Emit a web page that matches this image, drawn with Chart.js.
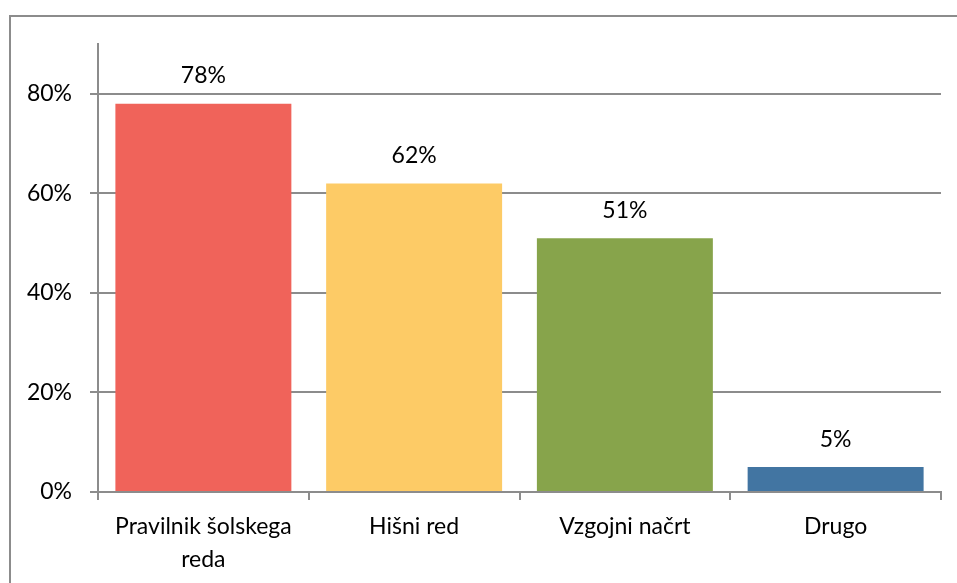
<!DOCTYPE html>
<html>
<head>
<meta charset="utf-8">
<script src="https://cdn.jsdelivr.net/npm/chart.js@4/dist/chart.umd.min.js"></script>
<style>
  html, body { margin: 0; padding: 0; background: #fff; }
  #wrap { width: 957px; height: 583px; }
</style>
</head>
<body>
<div id="wrap"><canvas id="chart"></canvas></div>
<script>
// data
const categories = [['Pravilnik šolskega', 'reda'], 'Hišni red', 'Vzgojni načrt', 'Drugo'];
const shares = [78, 62, 51, 5];
const barColors = ['#F0635A', '#FDCB66', '#87A44B', '#4275A2'];
const yTicks = [0, 20, 40, 60, 80];

const fontFamily = 'Lato, "Open Sans", sans-serif';

// outer frame like the original picture
const framePlugin = {
    id: 'frame',
    beforeDraw(chart) {
        const ctx = chart.ctx;
        ctx.save();
        ctx.strokeStyle = '#8c8c8c';
        ctx.lineWidth = 2;
        ctx.strokeRect(10, 16, 1200, 1000);
        ctx.restore();
    }
};

// value labels above the bars
const valueLabels = {
    id: 'valueLabels',
    afterDatasetsDraw(chart) {
        const ctx = chart.ctx;
        const meta = chart.getDatasetMeta(0);
        ctx.save();
        ctx.font = '23px ' + fontFamily;
        ctx.fillStyle = '#000';
        ctx.textAlign = 'center';
        ctx.textBaseline = 'middle';
        meta.data.forEach((bar, i) => {
            ctx.fillText(shares[i] + '%', bar.x, bar.y - 28);
        });
        ctx.restore();
    }
};

new Chart(document.getElementById('chart'), {
    type: 'bar',
    data: {
        labels: categories,
        datasets: [{
            data: shares,
            backgroundColor: barColors,
            barPercentage: 0.835,
            categoryPercentage: 1.0
        }]
    },
    options: {
        responsive: true,
        maintainAspectRatio: false,
        animation: false,
        layout: { padding: { top: 44, right: 16, left: 0, bottom: 0 } },
        plugins: {
            legend: { display: false },
            tooltip: { enabled: false }
        },
        scales: {
            x: {
                grid: {
                    offset: true,
                    drawOnChartArea: false,
                    drawTicks: true,
                    tickLength: 8,
                    color: '#8c8c8c',
                    lineWidth: 2
                },
                border: { color: '#8c8c8c', width: 2 },
                ticks: {
                    color: '#000',
                    font: { family: fontFamily, size: 23, lineHeight: 1.43 },
                    padding: 10,
                    maxRotation: 0,
                    autoSkip: false
                },
                afterFit(scale) { scale.height = 91; }
            },
            y: {
                min: 0,
                max: 90,
                afterBuildTicks(scale) {
                    scale.ticks = yTicks.map(v => ({ value: v }));
                },
                grid: {
                    color: '#8c8c8c',
                    lineWidth: 2,
                    tickLength: 8
                },
                border: { color: '#8c8c8c', width: 2 },
                ticks: {
                    color: '#000',
                    font: { family: fontFamily, size: 23 },
                    padding: 18,
                    callback: v => v + '%'
                },
                afterFit(scale) { scale.width = 98; }
            }
        }
    },
    plugins: [framePlugin, valueLabels]
});
</script>
</body>
</html>
